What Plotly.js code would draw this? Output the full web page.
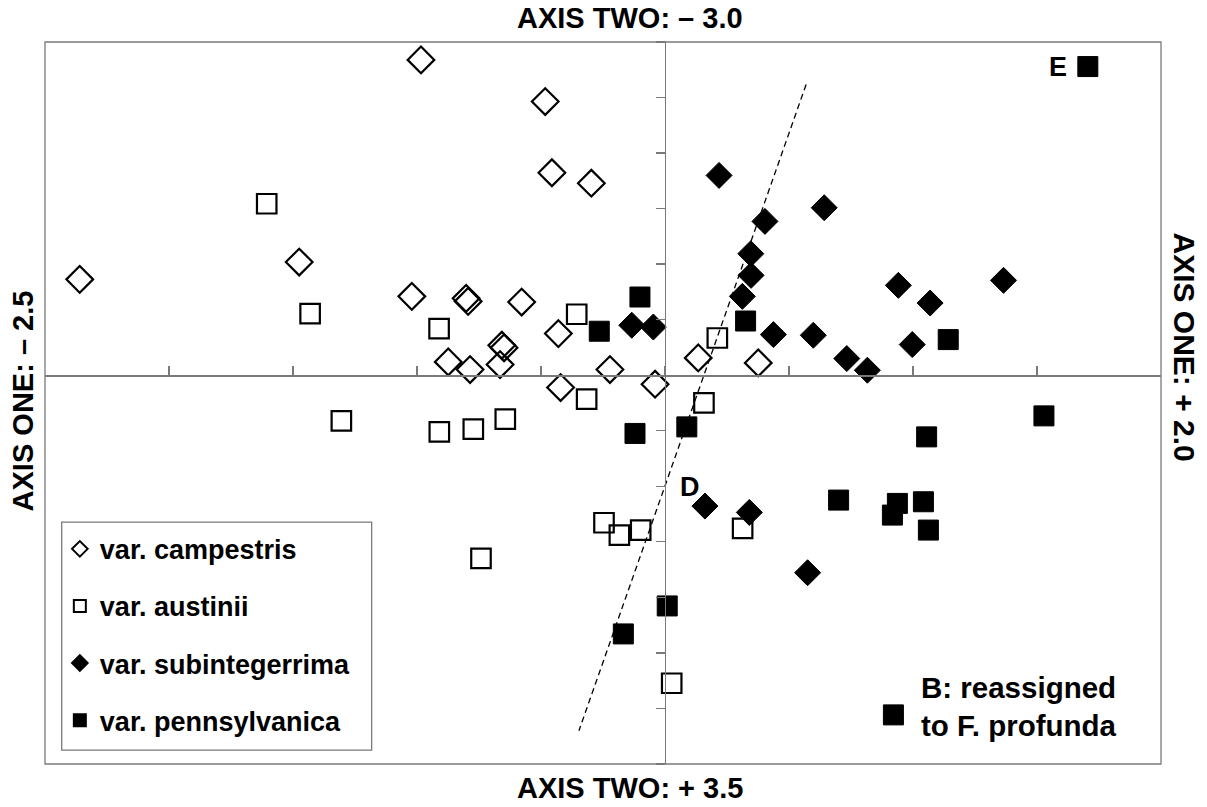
<!DOCTYPE html>
<html>
<head>
<meta charset="utf-8">
<script src="https://cdn.plot.ly/plotly-3.0.1.min.js"></script>
<style>html,body{margin:0;padding:0;background:#fff;}#chart{width:1207px;height:807px;}</style>
</head>
<body>
<div id="chart"></div>
<script>
// Axis One (horizontal) and Axis Two (vertical, -3.0 at top) scores
const campestrisX = [-0.984,-0.483,-0.456,-0.297,-1.475,-2.360,-1.021,-0.802,-0.794,-0.578,-0.430,-0.874,-0.786,-0.658,-0.649,-0.665,-0.222,-0.421,-0.040,0.134,0.376];
const campestrisY = [-2.839,-2.464,-1.823,-1.729,-1.019,-0.863,-0.710,-0.692,-0.665,-0.659,-0.375,-0.120,-0.051,-0.270,-0.247,-0.096,-0.051,0.111,0.081,-0.156,-0.111];

const austiniiX = [-1.606,-1.431,-0.911,-0.356,0.211,-0.316,0.157,-1.305,-0.910,-0.773,-0.644,-0.742,-0.246,-0.184,-0.098,0.313,0.027];
const austiniiY = [-1.544,-0.555,-0.420,-0.549,-0.335,0.216,0.249,0.411,0.510,0.486,0.396,1.648,1.328,1.439,1.394,1.379,2.773];

const subintegerrimaX = [0.218,0.642,0.403,0.346,0.347,0.312,0.437,0.598,0.733,0.816,0.941,1.069,0.997,1.365,-0.134,-0.047,0.161,0.340,0.575];
const subintegerrimaY = [-1.799,-1.508,-1.385,-1.094,-0.899,-0.710,-0.366,-0.360,-0.150,-0.045,-0.809,-0.650,-0.276,-0.854,-0.450,-0.434,1.178,1.235,1.778];

const pennsylvanicaX = [1.705,-0.101,-0.265,0.325,1.142,1.528,1.055,-0.121,0.088,0.700,0.937,0.917,1.042,1.062,0.009,-0.168,0.921];
const pennsylvanicaY = [-2.779,-0.704,-0.396,-0.488,-0.321,0.366,0.555,0.524,0.465,1.124,1.154,1.259,1.139,1.394,2.077,2.329,3.058];

const dividerX = [0.569,-0.347];
const dividerY = [-2.617,3.200];

const seriesNames = ['var. campestris','var. austinii','var. subintegerrima','var. pennsylvanica'];

const FONT = '"Liberation Sans", Arial, Helvetica, sans-serif';
const GREY = '#7a7a7a';

const traces = [
  {x: campestrisX, y: campestrisY, name: seriesNames[0], legendgroup:'a', mode:'markers', type:'scatter',
   marker:{symbol:'diamond-open', size:20.5, color:'#000', line:{width:2.2, color:'#000'}}},
  {x: austiniiX, y: austiniiY, name: seriesNames[1], legendgroup:'b', mode:'markers', type:'scatter',
   marker:{symbol:'square-open', size:19.5, color:'#000', line:{width:2.2, color:'#000'}}},
  {x: subintegerrimaX, y: subintegerrimaY, name: seriesNames[2], legendgroup:'c', mode:'markers', type:'scatter',
   marker:{symbol:'diamond', size:20, color:'#000', line:{width:1, color:'#000'}}},
  {x: pennsylvanicaX, y: pennsylvanicaY, name: seriesNames[3], legendgroup:'d', mode:'markers', type:'scatter',
   marker:{symbol:'square', size:20, color:'#000', line:{width:1, color:'#000'}}},
  {x: dividerX, y: dividerY, mode:'lines', type:'scatter', showlegend:false, hoverinfo:'skip',
   line:{color:'#000', width:1.3, dash:'6px,4px'}}
];

const titleFont = {family: FONT, size: 29, color:'#000', weight:'bold'};

const layout = {
  width:1207, height:807,
  margin:{l:45, r:46, t:42, b:42.5, pad:0},
  paper_bgcolor:'#fff', plot_bgcolor:'#fff',
  showlegend:true,
  legend:{x:0.0133, y:0.3313, xanchor:'left', yanchor:'top', bgcolor:'rgba(0,0,0,0)',
    borderwidth:0, traceorder:'grouped', tracegroupgap:19,
    itemsizing:'constant', font:{family:FONT, size:27, color:'#000', weight:'bold'}},
  xaxis:{range:[-2.5,2.0], anchor:'free', position:0.5385, showgrid:false, zeroline:false,
    showline:true, linecolor:GREY, linewidth:1.3, ticks:'inside', ticklen:9, tickwidth:1.3, tickcolor:GREY,
    tick0:0, dtick:0.5, showticklabels:false, fixedrange:true},
  yaxis:{range:[3.5,-3.0], anchor:'free', position:0.5556, showgrid:false, zeroline:false,
    showline:true, linecolor:GREY, linewidth:1.3, ticks:'outside', ticklen:9, tickwidth:1.3, tickcolor:GREY,
    tick0:0, dtick:0.5, showticklabels:false, fixedrange:true},
  shapes:[
    {type:'rect', xref:'paper', yref:'paper', x0:0, x1:1, y0:0, y1:1, line:{color:GREY, width:1.3}, fillcolor:'rgba(0,0,0,0)'},
    {type:'rect', xref:'paper', yref:'paper', x0:0.01496, x1:0.2927, y0:0.0191, y1:0.3351, line:{color:GREY, width:1.3}, fillcolor:'#fff'}
  ],
  annotations:[
    {text:'AXIS TWO: – 3.0', xref:'paper', yref:'paper', x:0.5242, y:1, yshift:24, xanchor:'center', yanchor:'middle', showarrow:false, font:titleFont},
    {text:'AXIS TWO: + 3.5', xref:'paper', yref:'paper', x:0.5242, y:0, yshift:-24, xanchor:'center', yanchor:'middle', showarrow:false, font:titleFont},
    {text:'AXIS ONE: – 2.5', xref:'paper', yref:'paper', x:0, xshift:-22, y:0.5022, textangle:-90, xanchor:'center', yanchor:'middle', showarrow:false, font:titleFont},
    {text:'AXIS ONE: + 2.0', xref:'paper', yref:'paper', x:1, xshift:24, y:0.5783, textangle:90, xanchor:'center', yanchor:'middle', showarrow:false, font:{family:FONT, size:30, color:'#000', weight:'bold'}},
    {text:'D', xref:'x', yref:'y', x:0.101, y:1.007, xanchor:'center', yanchor:'middle', showarrow:false, font:{family:FONT, size:27, color:'#000', weight:'bold'}},
    {text:'E', xref:'x', yref:'y', x:1.585, y:-2.779, xanchor:'center', yanchor:'middle', showarrow:false, font:{family:FONT, size:27, color:'#000', weight:'bold'}},
    {text:'B: reassigned<br>to F. profunda', xref:'x', yref:'y', x:1.024, y:2.986, xanchor:'left', yanchor:'middle', align:'left', showarrow:false, font:{family:FONT, size:29.5, color:'#000', weight:'bold'}}
  ]
};

Plotly.newPlot('chart', traces, layout, {displayModeBar:false, staticPlot:true});
</script>
</body>
</html>
